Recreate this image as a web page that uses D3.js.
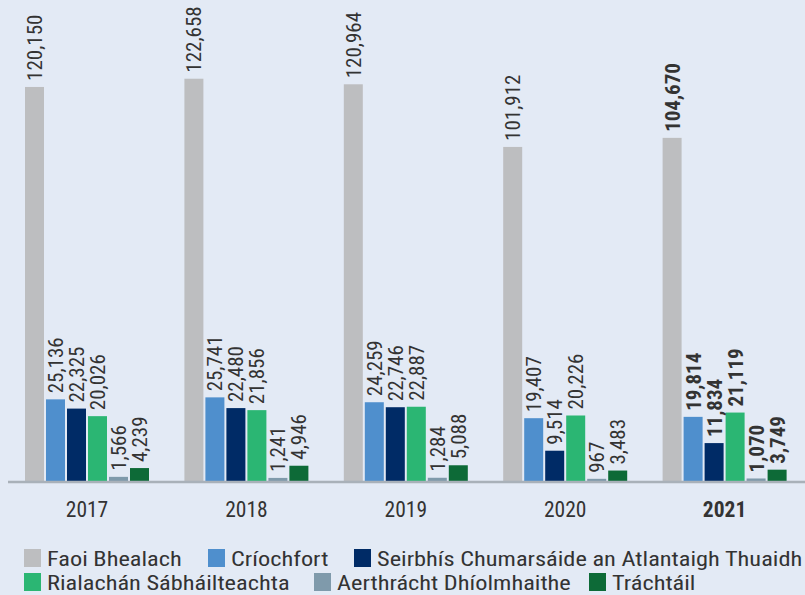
<!DOCTYPE html>
<html>
<head>
<meta charset="utf-8">
<script src="https://cdn.jsdelivr.net/npm/d3@7"></script>
<style>
  body { margin: 0; background: #e3eaf5; }
  text { font-family: "Liberation Sans Narrow", "Roboto Condensed", "Liberation Sans", sans-serif; fill: #333; }
</style>
</head>
<body>
<script>
// data
var years = ["2017", "2018", "2019", "2020", "2021"];
var series = ["Faoi Bhealach", "Críochfort", "Seirbhís Chumarsáide an Atlantaigh Thuaidh",
              "Rialachán Sábháilteachta", "Aerthrácht Dhíolmhaithe", "Tráchtáil"];
var colors = ["#bdbec0", "#4f8fcd", "#002b66", "#2bb673", "#7f9aab", "#0d6a37"];
var values = [
  [120150, 25136, 22325, 20026, 1566, 4239],
  [122658, 25741, 22480, 21856, 1241, 4946],
  [120964, 24259, 22746, 22887, 1284, 5088],
  [101912, 19407, 9514, 20226, 967, 3483],
  [104670, 19814, 11834, 21119, 1070, 3749]
];

var W = 805, H = 595, base = 482;

var svg = d3.select("body").append("svg")
  .attr("width", W).attr("height", H);

svg.append("rect").attr("width", W).attr("height", H).attr("fill", "#e3eaf5");

var x0 = d3.scaleBand().domain(years).range([8, 805]);
var x1 = d3.scaleBand().domain(d3.range(series.length)).range([17, 141]).paddingInner(2 / 21).paddingOuter(0);
var y = d3.scaleLinear().domain([0, 146600]).range([base, 0]);

var fmt = d3.format(",");

var groups = svg.selectAll("g.year")
  .data(years)
  .enter().append("g")
    .attr("class", "year")
    .attr("transform", function(d) { return "translate(" + x0(d) + ",0)"; });

function rows(d, i) { return values[i].map(function(v, j) { return {v: v, j: j, yi: i}; }); }

groups.selectAll("rect")
  .data(rows)
  .enter().append("rect")
    .attr("x", function(d) { return x1(d.j); })
    .attr("y", function(d) { return y(d.v); })
    .attr("width", x1.bandwidth())
    .attr("height", function(d) { return base - y(d.v); })
    .attr("fill", function(d) { return colors[d.j]; });

groups.selectAll("text.val")
  .data(rows)
  .enter().append("text")
    .attr("class", "val")
    .attr("transform", function(d) {
      return "translate(" + (x1(d.j) + x1.bandwidth() / 2 + 7.5) + "," + (y(d.v) - 6) + ")rotate(-90)";
    })
    .style("font-size", "21px")
    .style("font-weight", function(d) { return d.yi == 4 ? "bold" : "normal"; })
    .text(function(d) { return fmt(d.v); });

// axis line
svg.append("line")
  .attr("x1", 8).attr("x2", 805)
  .attr("y1", base).attr("y2", base)
  .attr("stroke", "#a9b1b9").attr("stroke-width", 2.5);

// year labels
groups.append("text")
  .attr("x", 79)
  .attr("y", 517)
  .attr("text-anchor", "middle")
  .style("font-size", "21.5px")
  .style("font-weight", function(d, i) { return i == 4 ? "bold" : "normal"; })
  .text(function(d) { return d; });

// legend
var legPos = [[24, 549], [208, 549], [354, 549], [24, 573], [314, 573], [589, 573]];
var leg = svg.selectAll("g.leg")
  .data(series)
  .enter().append("g")
    .attr("class", "leg")
    .attr("transform", function(d, i) { return "translate(" + legPos[i][0] + "," + legPos[i][1] + ")"; });

leg.append("rect")
  .attr("x", 0).attr("y", 0)
  .attr("width", 17).attr("height", 18)
  .attr("fill", function(d, i) { return colors[i]; });

leg.append("text")
  .attr("transform", "translate(23,17)scale(1.16,1)")
  .style("font-size", "21px")
  .text(function(d) { return d; });
</script>
</body>
</html>
